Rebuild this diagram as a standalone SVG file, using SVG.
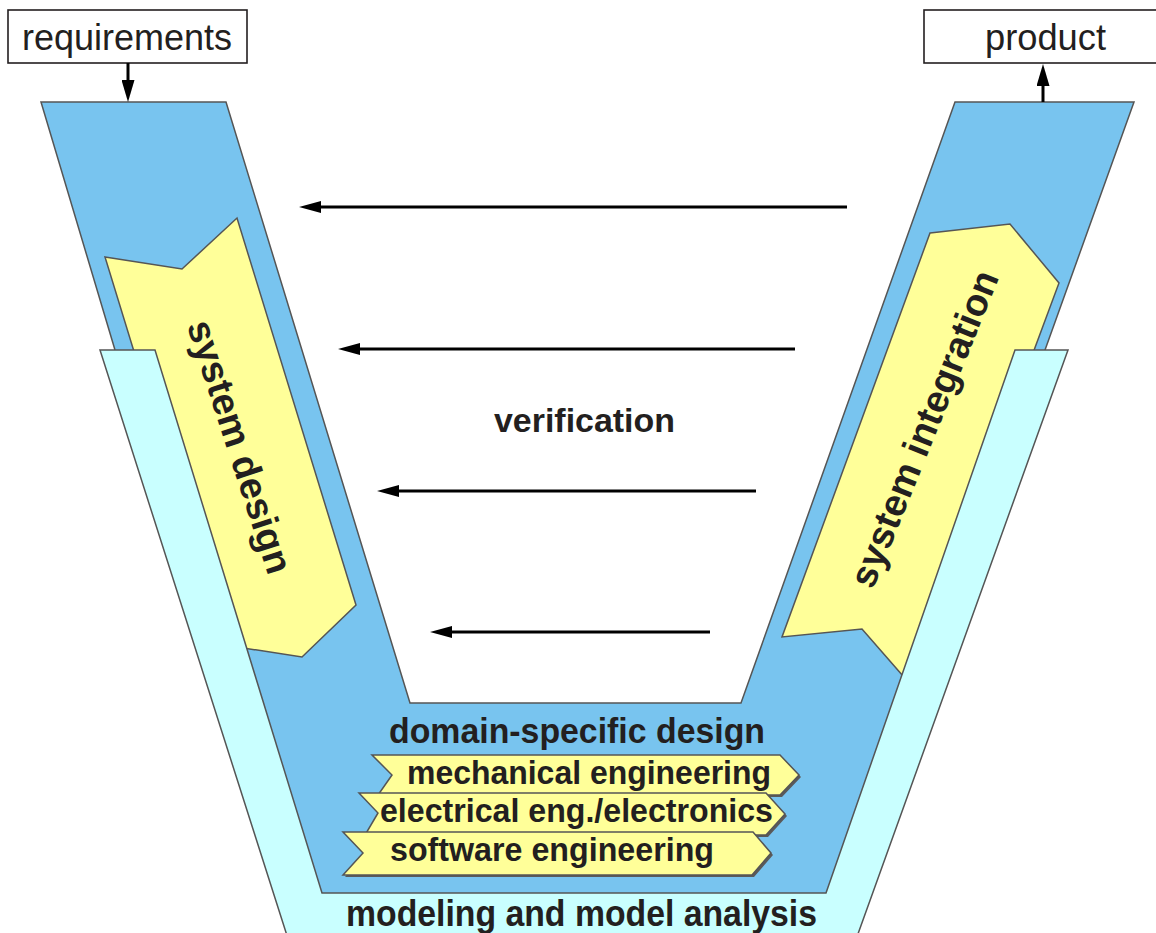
<svg xmlns="http://www.w3.org/2000/svg" width="1156" height="933" viewBox="0 0 1156 933">
  <style>
    .shape { stroke: #555555; stroke-width: 1.5; stroke-linejoin: miter; }
    .blue { fill: #78c4ef; }
    .cyan { fill: #c9ffff; }
    .yellow { fill: #ffff99; }
    .shadow { fill: #5a5a5a; }
    .box { fill: #ffffff; stroke: #231f20; stroke-width: 1.6; }
    .lbl { font-family: "Liberation Sans", Arial, sans-serif; fill: #231f20; }
    .reg { font-size: 36px; }
    .bold { font-weight: bold; }
    .conn { stroke: #000000; stroke-width: 3; fill: none; }
  </style>
  <defs>
    <marker id="ah" viewBox="0 0 22 12" refX="2" refY="6" markerWidth="22" markerHeight="12" markerUnits="userSpaceOnUse" orient="auto">
      <path d="M0,0 L22,6 L0,12 Z" fill="#000000"/>
    </marker>
    <marker id="ahs" viewBox="0 0 22 13" refX="2" refY="6.5" markerWidth="22" markerHeight="13" markerUnits="userSpaceOnUse" orient="auto">
      <path d="M0,0 L22,6.5 L0,13 Z" fill="#000000"/>
    </marker>
  </defs>
  <rect width="1156" height="933" fill="#ffffff"/>

  <g id="v-process">
    <polygon class="shape blue" points="41,102 226,102 410,703 741,703 955,102 1134,102 1045,350 840,905 310,905 115,350"/>
  </g>

  <g id="system-design">
    <polygon class="shape yellow" points="105,257 182,269 237,218 356,605 302,657 224,645"/>
    <text class="lbl bold" font-size="38" text-anchor="middle" transform="translate(239,447) rotate(72)" y="12">system design</text>
  </g>

  <g id="system-integration">
    <polygon class="shape yellow" points="930,233 1010,224 1059,283 910,684 862,629 782,637"/>
    <text class="lbl bold" font-size="38" text-anchor="middle" transform="translate(925,429) rotate(-68)" y="12">system integration</text>
  </g>

  <g id="modeling">
    <polygon class="shape cyan" points="100,350 155,350 322,893 826,893 1015,350 1068,350 854,945 290,945"/>
    <text class="lbl bold" font-size="36" x="346" y="926" textLength="471" lengthAdjust="spacingAndGlyphs">modeling and model analysis</text>
  </g>

  <g id="domain-specific-design">
    <text class="lbl bold" font-size="35" x="389" y="743" textLength="376" lengthAdjust="spacingAndGlyphs">domain-specific design</text>
  </g>

  <g id="mechanical-engineering">
    <polygon class="shadow" points="374,757 782,757 801,777 782,797 380,797 394,777"/>
    <polygon class="shape yellow" points="372,755 780,755 799,775 780,795 378,795 392,775"/>
    <text class="lbl bold" font-size="34" x="407" y="784" textLength="364" lengthAdjust="spacingAndGlyphs">mechanical engineering</text>
  </g>

  <g id="electrical-engineering">
    <polygon class="shadow" points="361,795 768,795 787,816 768,837 367,837 380,815"/>
    <polygon class="shape yellow" points="359,793 766,793 785,814 766,835 365,835 378,813"/>
    <text class="lbl bold" font-size="34" x="380" y="822" textLength="393" lengthAdjust="spacingAndGlyphs">electrical eng./electronics</text>
  </g>

  <g id="software-engineering">
    <polygon class="shadow" points="345,834 755,834 773,855 754,877 345,877 365,855"/>
    <polygon class="shape yellow" points="343,832 753,832 771,853 752,875 343,875 363,853"/>
    <text class="lbl bold" font-size="34" x="390" y="861" textLength="324" lengthAdjust="spacingAndGlyphs">software engineering</text>
  </g>

  <g id="verification">
    <text class="lbl bold" font-size="34" x="494" y="432" textLength="181" lengthAdjust="spacingAndGlyphs">verification</text>
  </g>

  <g id="requirements">
    <rect class="box" x="8" y="10" width="239" height="53"/>
    <text class="lbl reg" x="22" y="50" textLength="210" lengthAdjust="spacingAndGlyphs">requirements</text>
  </g>

  <g id="product">
    <rect class="box" x="924" y="10" width="250" height="53"/>
    <text class="lbl reg" x="985" y="50" textLength="121" lengthAdjust="spacingAndGlyphs">product</text>
  </g>

  <g id="connectors">
    <line class="conn" x1="128" y1="63" x2="128" y2="82" marker-end="url(#ahs)"/>
    <line class="conn" x1="1043" y1="102" x2="1043" y2="84" marker-end="url(#ahs)"/>
    <line class="conn" x1="847" y1="207" x2="319" y2="207" marker-end="url(#ah)"/>
    <line class="conn" x1="795" y1="349" x2="358" y2="349" marker-end="url(#ah)"/>
    <line class="conn" x1="756" y1="491" x2="397" y2="491" marker-end="url(#ah)"/>
    <line class="conn" x1="710" y1="632" x2="450" y2="632" marker-end="url(#ah)"/>
  </g>
</svg>
